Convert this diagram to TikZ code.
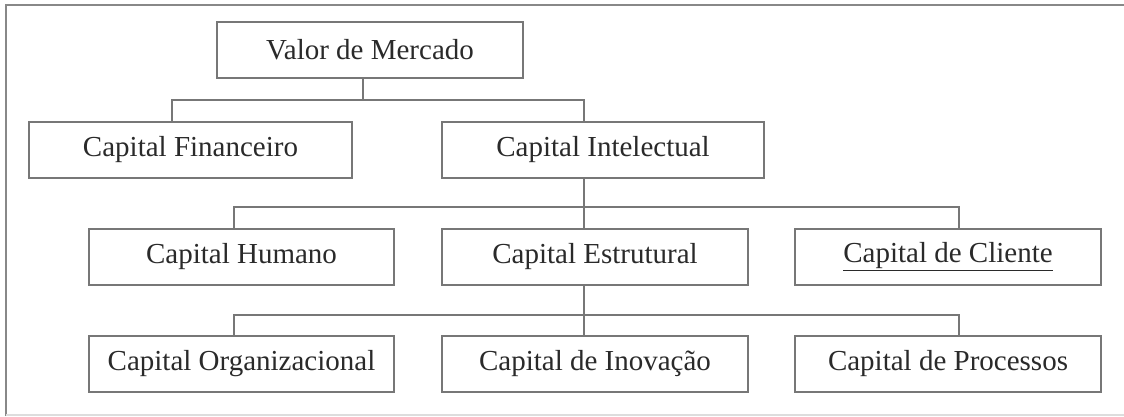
\documentclass[tikz,border=0pt]{standalone}
\usepackage{fontspec}
\setmainfont{Liberation Serif}
\begin{document}
\begin{tikzpicture}[x=1pt,y=-1pt,
  box/.style={draw=boxgray,line width=2.4pt,fill=white,rectangle,minimum height=56pt,inner sep=0pt,text=textgray,font=\fontsize{29}{32}\selectfont},
  conn/.style={draw=boxgray,line width=2pt}]
\definecolor{boxgray}{HTML}{777777}
\definecolor{textgray}{HTML}{2A2A2A}
\definecolor{framegray}{HTML}{888888}
\definecolor{lightframe}{HTML}{DDDDDD}
\useasboundingbox (0,0) rectangle (1124,416);
\fill[white] (0,0) rectangle (1124,416);
% outer frame
\draw[framegray,line width=2pt] (6,416) -- (6,5) -- (1124,5);
\draw[lightframe,line width=1.5pt] (6,415) -- (1124,415);
% nodes
\node[box,minimum width=306pt] (valor) at (370,50) {Valor de Mercado};
\node[box,minimum width=323pt] (fin) at (190.5,150) {Capital Financeiro};
\node[box,minimum width=322pt] (intel) at (603,150) {Capital Intelectual};
\node[box,minimum width=305pt] (hum) at (241.5,257) {Capital Humano};
\node[box,minimum width=306pt] (estr) at (595,257) {Capital Estrutural};
\node[box,minimum width=306pt] (cli) at (948,257) {\underline{Capital de Cliente}};
\node[box,minimum width=305pt] (org) at (241.5,364) {Capital Organizacional};
\node[box,minimum width=306pt] (inov) at (595,364) {Capital de Inovação};
\node[box,minimum width=306pt] (proc) at (948,364) {Capital de Processos};
% junction coordinates
\coordinate (j1) at (363,100);
\coordinate (j1l) at (172,100);
\coordinate (j1r) at (584,100);
\coordinate (j2) at (584,207);
\coordinate (j2l) at (234,207);
\coordinate (j2r) at (959,207);
\coordinate (j3) at (584,315);
\coordinate (j3l) at (234,315);
\coordinate (j3r) at (959,315);
% connectors
\draw[conn] (j1 |- valor.south) -- (j1);
\draw[conn] (j1l |- fin.north) -- (j1l) -- (j1r) -- (j1r |- intel.north);
\draw[conn] (j2 |- intel.south) -- (j2);
\draw[conn] (j2l |- hum.north) -- (j2l) -- (j2r) -- (j2r |- cli.north);
\draw[conn] (j2) -- (j2 |- estr.north);
\draw[conn] (j3 |- estr.south) -- (j3);
\draw[conn] (j3l |- org.north) -- (j3l) -- (j3r) -- (j3r |- proc.north);
\draw[conn] (j3) -- (j3 |- inov.north);
\end{tikzpicture}
\end{document}
